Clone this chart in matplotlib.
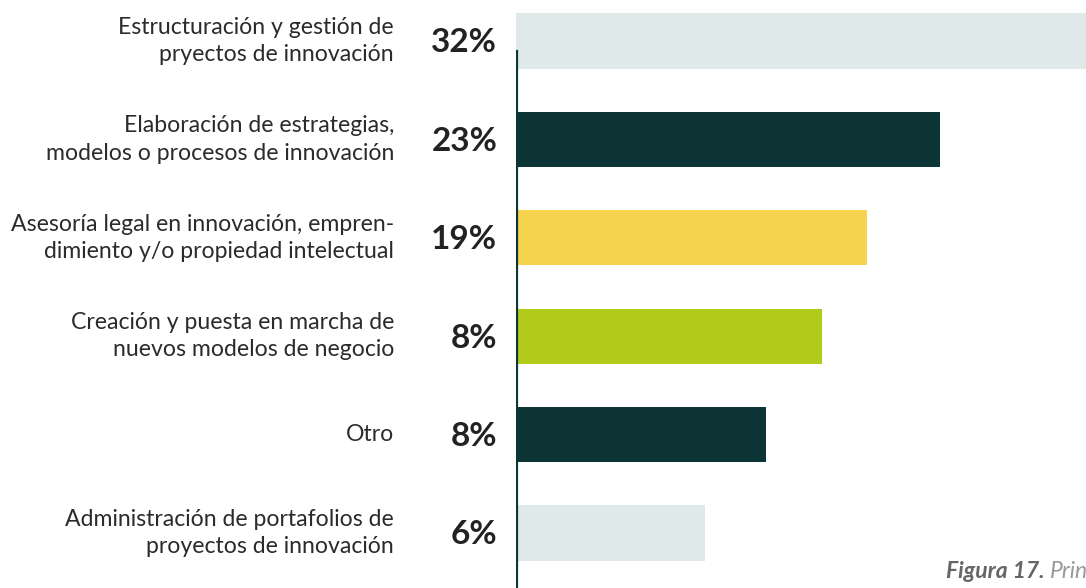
import matplotlib
matplotlib.use("Agg")
import matplotlib.pyplot as plt

plt.rcParams["font.family"] = ["Lato", "DejaVu Sans"]

# data
categories = [
    "Estructuración y gestión de\npryectos de innovación",
    "Elaboración de estrategias,\nmodelos o procesos de innovación",
    "Asesoría legal en innovación, empren-\ndimiento y/o propiedad intelectual",
    "Creación y puesta en marcha de\nnuevos modelos de negocio",
    "Otro",
    "Administración de portafolios de\nproyectos de innovación",
]
pct_labels = ["32%", "23%", "19%", "8%", "8%", "6%"]
# drawn bar lengths (not proportional to the labels in the source)
bar_lengths = [105, 74.4, 61.6, 53.7, 43.9, 33.2]
bar_colors = ["#E0E9EA", "#0D3535", "#F5D34E", "#B2CB1B", "#0D3535", "#E0E9EA"]

fig = plt.figure(figsize=(10.86, 5.88), dpi=100)
ax = fig.add_axes([516 / 1086, 0, 570 / 1086, 1])

pos = list(range(len(categories)))
ax.barh(pos, bar_lengths, height=0.56, color=bar_colors, zorder=1)
ax.set_xlim(0, 100)
ax.set_ylim(5.559, -0.417)

# vertical axis line
ax.axvline(0, ymin=0, ymax=1 - 51 / 588, color="#0D3535", lw=2.3, zorder=3)

for i in pos:
    ax.text(-21.4, i, categories[i], ha="right", va="center", fontsize=16.6,
            color="#2b2b2b", linespacing=1.38, clip_on=False)
    ax.text(-3.3, i + 0.02, pct_labels[i], ha="right", va="center", fontsize=24,
            fontweight="bold", color="#222222", clip_on=False)

for s in ax.spines.values():
    s.set_visible(False)
ax.set_xticks([])
ax.set_yticks([])

# caption, cut by the right edge as in the reference
t1 = fig.text(946 / 1086, 1 - 571 / 588, "Figura 17.", ha="left", va="center",
              fontsize=16.5, fontweight="bold", style="italic", color="#666666")
fig.canvas.draw()
bb = t1.get_window_extent()
fig.text((bb.x1 + 5) / 1086, 1 - 571 / 588, "Principales", ha="left", va="center",
         fontsize=16.5, style="italic", color="#999999")

fig.savefig("out.png", dpi=100)
